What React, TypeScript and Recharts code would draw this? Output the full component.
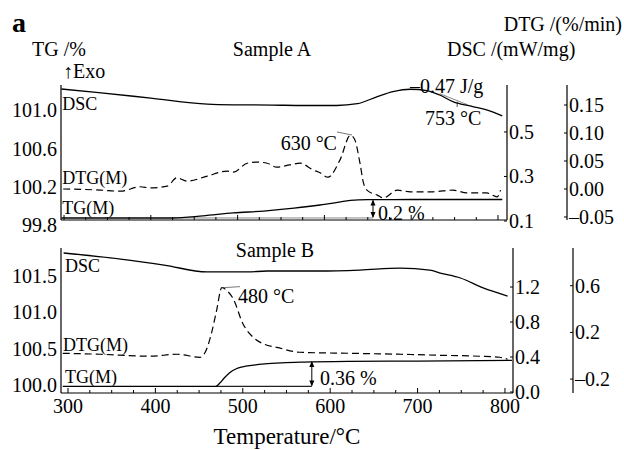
import React from "react";
import {
  ComposedChart,
  Line,
  XAxis,
  YAxis,
  ReferenceDot,
  ReferenceLine,
} from "recharts";

const FONT = "'Liberation Serif', 'Times New Roman', serif";

// ---- Sample A ----
const tempDscA = [297, 340, 400, 465, 495, 540, 576, 614, 638, 661, 679, 699, 718, 733, 748, 771, 787, 805];
const dscA = [0.693, 0.677, 0.652, 0.625, 0.622, 0.621, 0.619, 0.619, 0.627, 0.659, 0.681, 0.692, 0.686, 0.666, 0.636, 0.614, 0.599, 0.572];

const tempDtgA = [299, 342, 365, 388, 399, 419, 430, 442, 465, 488, 495, 511, 522, 534, 545, 560, 572, 587, 595, 604, 618, 630, 635, 641, 645, 649, 661, 668, 684, 699, 725, 748, 764, 787, 799, 803];
const dtgA = [0.0, -0.002, -0.004, 0.004, 0.002, 0.005, 0.02, 0.014, 0.023, 0.032, 0.03, 0.046, 0.048, 0.046, 0.039, 0.043, 0.046, 0.034, 0.029, 0.021, 0.052, 0.096, 0.088, 0.046, 0.011, -0.002, -0.011, -0.016, -0.002, -0.005, -0.005, -0.002, -0.007, -0.007, -0.014, -0.002];

const tempTgA = [297, 425, 460, 495, 530, 565, 595, 615, 630, 650, 700, 750, 805];
const tgA = [99.878, 99.878, 99.9, 99.93, 99.95, 99.98, 100.013, 100.04, 100.06, 100.068, 100.07, 100.07, 100.07];

// ---- Sample B ----
const tempDscB = [295, 360, 410, 459, 505, 528, 588, 634, 680, 714, 726, 749, 775, 803];
const dscB = [1.589, 1.52, 1.451, 1.372, 1.372, 1.383, 1.383, 1.394, 1.417, 1.394, 1.36, 1.303, 1.189, 1.097];

const tempDtgB = [294, 337, 394, 425, 451, 457, 465, 470, 476, 482, 489, 500, 512, 525, 539, 565, 623, 680, 726, 771, 794, 803];
const dtgB = [0.021, 0.013, -0.004, 0.013, -0.013, 0.03, 0.217, 0.387, 0.583, 0.557, 0.489, 0.277, 0.157, 0.098, 0.072, 0.03, 0.021, 0.013, 0.004, -0.004, -0.013, -0.03];

const tempTgB = [294, 469, 474, 479, 485, 492, 500, 510, 525, 545, 570, 620, 700, 808];
const tgB = [99.98, 99.98, 100.03, 100.1, 100.17, 100.22, 100.25, 100.27, 100.29, 100.305, 100.315, 100.325, 100.33, 100.34];

// ---- ticks ----
const tempTicks = [300, 325, 350, 375, 400, 425, 450, 475, 500, 525, 550, 575, 600, 625, 650, 675, 700, 725, 750, 775, 800];
const tgTicksA = [99.8, 100.2, 100.6, 101.0];
const dscTicksA = [0.1, 0.3, 0.5];
const dtgTicksA = [-0.05, 0.0, 0.05, 0.1, 0.15];
const tgTicksB = [100.0, 100.5, 101.0, 101.5];
const dscTicksB = [0.0, 0.4, 0.8, 1.2];
const dtgTicksB = [-0.2, 0.2, 0.6];

const pts = (t: number[], v: number[]) => t.map((x, i) => ({ t: x, v: v[i] }));
const fmt = (v: number, d: number) => v.toFixed(d).replace("-", "\u2013");

function XTick({ x, y, payload, labels }: any) {
  const major = payload.value % 100 === 0;
  return (
    <g>
      <line x1={x} x2={x} y1={y} y2={y - (major ? 5 : 3)} stroke="#000" />
      {labels && major && (
        <text x={x} y={y + 20} textAnchor="middle" fontSize={20} fontFamily={FONT} fill="#000">
          {payload.value}
        </text>
      )}
    </g>
  );
}

function LeftTick({ x, y, payload }: any) {
  return (
    <text x={x} y={y} dy="0.35em" textAnchor="end" fontSize={20} fontFamily={FONT} fill="#000">
      {fmt(payload.value, 1)}
    </text>
  );
}

function RightTick({ x, y, payload, digits }: any) {
  return (
    <g>
      <line x1={x - 2} x2={x - 5} y1={y} y2={y} stroke="#000" />
      <text x={x} y={y} dy="0.35em" textAnchor="start" fontSize={20} fontFamily={FONT} fill="#000">
        {fmt(payload.value, digits)}
      </text>
    </g>
  );
}

const tag = (text: string, anchor = "start", size = 18, fill = "#000") => (p: any) => (
  <text x={p.cx} y={p.cy} dy="0.35em" textAnchor={anchor} fontSize={size} fontFamily={FONT} fill={fill}>
    {text}
  </text>
);

const arrow = (p: any) => {
  const { x1, y1, x2, y2 } = p;
  const top = Math.min(y1, y2);
  const bot = Math.max(y1, y2);
  return (
    <g stroke="#000" fill="#000" strokeWidth={1}>
      <line x1={x1} x2={x2} y1={top + 1} y2={bot - 1} />
      <polygon points={`${x1},${top} ${x1 - 2.5},${top + 6} ${x1 + 2.5},${top + 6}`} stroke="none" />
      <polygon points={`${x1},${bot} ${x1 - 2.5},${bot - 6} ${x1 + 2.5},${bot - 6}`} stroke="none" />
    </g>
  );
};

const axisStroke = { stroke: "#000", strokeWidth: 1.2 };

function SampleA() {
  return (
    <ComposedChart width={624} height={240} margin={{ top: 85, right: 0, bottom: 0, left: 0 }}>
      <XAxis
        type="number"
        dataKey="t"
        domain={[296.5, 810.4]}
        allowDataOverflow
        ticks={tempTicks}
        interval={0}
        height={20}
        tickSize={0}
        tickMargin={0}
        tickLine={false}
        axisLine={axisStroke}
        tick={(p: any) => <XTick {...p} labels={false} />}
      />
      <YAxis
        yAxisId="tg"
        orientation="left"
        width={61}
        domain={[99.857, 101.26]}
        allowDataOverflow
        ticks={tgTicksA}
        interval={0}
        tickSize={0}
        tickMargin={4}
        tickLine={false}
        axisLine={axisStroke}
        tick={(p: any) => <LeftTick {...p} />}
      />
      <YAxis
        yAxisId="dsc"
        orientation="right"
        width={60}
        domain={[0.1045, 0.711]}
        allowDataOverflow
        ticks={dscTicksA}
        interval={0}
        tickSize={0}
        tickMargin={2}
        tickLine={false}
        axisLine={axisStroke}
        tick={(p: any) => <RightTick {...p} digits={1} />}
      />
      <YAxis
        yAxisId="dtg"
        orientation="right"
        width={57}
        domain={[-0.0554, 0.1857]}
        allowDataOverflow
        ticks={dtgTicksA}
        interval={0}
        tickSize={0}
        tickMargin={2}
        tickLine={false}
        axisLine={axisStroke}
        tick={(p: any) => <RightTick {...p} digits={2} />}
      />

      <ReferenceLine yAxisId="tg" segment={[{ x: 425, y: 99.878 }, { x: 656, y: 99.878 }]} stroke="#888" strokeWidth={1} />
      <ReferenceLine yAxisId="tg" segment={[{ x: 656, y: 99.878 }, { x: 656, y: 100.07 }]} shape={arrow} />
      <ReferenceLine yAxisId="dtg" segment={[{ x: 614.5, y: 0.1018 }, { x: 631.8, y: 0.0964 }]} stroke="#777" strokeWidth={1} />
      <ReferenceLine yAxisId="dsc" segment={[{ x: 733, y: 0.672 }, { x: 765, y: 0.622 }]} stroke="#888" strokeWidth={1} />
      <ReferenceLine yAxisId="dsc" segment={[{ x: 753, y: 0.636 }, { x: 753, y: 0.612 }]} stroke="#555" strokeWidth={1} />

      <Line yAxisId="dsc" data={pts(tempDscA, dscA)} dataKey="v" type="monotone" stroke="#000" strokeWidth={1.3} dot={false} isAnimationActive={false} />
      <Line yAxisId="dtg" data={pts(tempDtgA, dtgA)} dataKey="v" type="monotone" stroke="#000" strokeWidth={1.2} strokeDasharray="7 4" dot={false} isAnimationActive={false} />
      <Line yAxisId="tg" data={pts(tempTgA, tgA)} dataKey="v" type="monotone" stroke="#000" strokeWidth={1.3} dot={false} isAnimationActive={false} />

      <ReferenceDot yAxisId="dsc" x={298} y={0.626} r={0} shape={tag("DSC")} />
      <ReferenceDot yAxisId="dtg" x={298} y={0.0196} r={0} shape={tag("DTG(M)")} />
      <ReferenceDot yAxisId="tg" x={298} y={99.982} r={0} shape={tag("TG(M)")} />
      <ReferenceDot yAxisId="dtg" x={614.5} y={0.082} r={0} shape={tag("630 \u00b0C", "end", 20)} />
      <ReferenceDot yAxisId="dsc" x={698.6} y={0.7067} r={0} shape={tag("\u20130.47 J/g", "start", 20)} />
      <ReferenceDot yAxisId="dsc" x={715.9} y={0.563} r={0} shape={tag("753 \u00b0C", "start", 20)} />
      <ReferenceDot yAxisId="tg" x={661.8} y={99.93} r={0} shape={tag("0.2 %", "start", 20)} />
    </ComposedChart>
  );
}

function SampleB() {
  return (
    <ComposedChart width={624} height={220} margin={{ top: 18, right: 0, bottom: 0, left: 0 }}>
      <XAxis
        type="number"
        dataKey="t"
        domain={[292, 809.2]}
        allowDataOverflow
        ticks={tempTicks}
        interval={0}
        height={57}
        tickSize={0}
        tickMargin={0}
        tickLine={false}
        axisLine={axisStroke}
        tick={(p: any) => <XTick {...p} labels />}
        label={{ value: "Temperature/\u00b0C", position: "insideBottom", offset: 6, fontSize: 23, fontFamily: FONT, fill: "#000" }}
      />
      <YAxis
        yAxisId="tg"
        orientation="left"
        width={61}
        domain={[99.89, 101.886]}
        allowDataOverflow
        ticks={tgTicksB}
        interval={0}
        tickSize={0}
        tickMargin={4}
        tickLine={false}
        axisLine={axisStroke}
        tick={(p: any) => <LeftTick {...p} />}
      />
      <YAxis
        yAxisId="dsc"
        orientation="right"
        width={60}
        domain={[-0.0114, 1.646]}
        allowDataOverflow
        ticks={dscTicksB}
        interval={0}
        tickSize={0}
        tickMargin={2}
        tickLine={false}
        axisLine={axisStroke}
        tick={(p: any) => <RightTick {...p} digits={1} />}
      />
      <YAxis
        yAxisId="dtg"
        orientation="right"
        width={51}
        domain={[-0.319, 0.923]}
        allowDataOverflow
        ticks={dtgTicksB}
        interval={0}
        tickSize={0}
        tickMargin={2}
        tickLine={false}
        axisLine={axisStroke}
        tick={(p: any) => <RightTick {...p} digits={1} />}
      />

      <ReferenceLine yAxisId="tg" segment={[{ x: 469, y: 99.98 }, { x: 579, y: 99.98 }]} stroke="#222" strokeWidth={1.2} />
      <ReferenceLine yAxisId="tg" segment={[{ x: 579, y: 99.98 }, { x: 579, y: 100.33 }]} shape={arrow} />
      <ReferenceLine yAxisId="dtg" segment={[{ x: 477.3, y: 0.583 }, { x: 496.8, y: 0.592 }]} stroke="#777" strokeWidth={1} />

      <Line yAxisId="dsc" data={pts(tempDscB, dscB)} dataKey="v" type="monotone" stroke="#000" strokeWidth={1.3} dot={false} isAnimationActive={false} />
      <Line yAxisId="dtg" data={pts(tempDtgB, dtgB)} dataKey="v" type="monotone" stroke="#000" strokeWidth={1.2} strokeDasharray="7 4" dot={false} isAnimationActive={false} />
      <Line yAxisId="tg" data={pts(tempTgB, tgB)} dataKey="v" type="monotone" stroke="#000" strokeWidth={1.3} dot={false} isAnimationActive={false} />

      <ReferenceDot yAxisId="dsc" x={296.6} y={1.44} r={0} shape={tag("DSC")} />
      <ReferenceDot yAxisId="dtg" x={294.3} y={0.098} r={0} shape={tag("DTG(M)")} />
      <ReferenceDot yAxisId="tg" x={296.6} y={100.117} r={0} shape={tag("TG(M)")} />
      <ReferenceDot yAxisId="dtg" x={494.5} y={0.515} r={0} shape={tag("480 \u00b0C", "start", 20)} />
      <ReferenceDot yAxisId="tg" x={588.3} y={100.103} r={0} shape={tag("0.36 %", "start", 20)} />
    </ComposedChart>
  );
}

export default function App() {
  return (
    <div style={{ position: "absolute", left: 0, top: 0, width: 624, height: 450, background: "#fff", fontFamily: FONT }}>
      <div style={{ position: "absolute", left: 0, top: 0 }}>
        <SampleA />
      </div>
      <div style={{ position: "absolute", left: 0, top: 230 }}>
        <SampleB />
      </div>
      <svg width={624} height={450} style={{ position: "absolute", left: 0, top: 0, pointerEvents: "none" }} fontFamily={FONT} fill="#000">
        <text x={12} y={32} fontSize={28} fontWeight="bold">a</text>
        <text x={32} y={56} fontSize={20}>TG /%</text>
        <text x={272} y={56} fontSize={20} textAnchor="middle">Sample A</text>
        <text x={622} y={31} fontSize={20} textAnchor="end">DTG /(%/min)</text>
        <text x={447} y={56} fontSize={20}>DSC /(mW/mg)</text>
        <text x={63} y={78} fontSize={20}>{"\u2191Exo"}</text>
        <text x={275} y={257} fontSize={20} textAnchor="middle">Sample B</text>
      </svg>
    </div>
  );
}
